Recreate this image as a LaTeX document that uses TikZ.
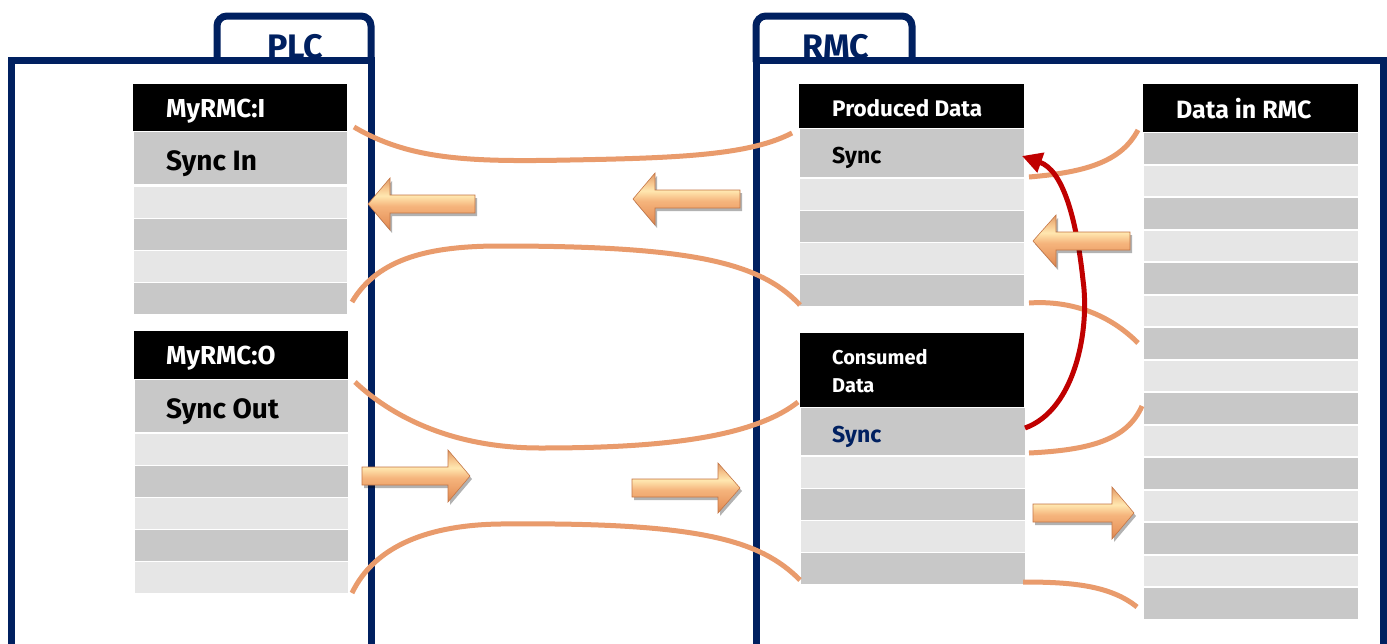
\documentclass[tikz,border=0pt]{standalone}
\usepackage{fontspec}
\setmainfont{Fira Sans}
\usetikzlibrary{arrows.meta,shadows}
\definecolor{navy}{RGB}{0,32,96}
\definecolor{rowdark}{RGB}{200,200,200}
\definecolor{rowlight}{RGB}{230,230,230}
\definecolor{wirec}{RGB}{233,155,108}
\definecolor{redarr}{RGB}{192,0,0}
\definecolor{arrA}{RGB}{196,118,70}
\definecolor{arrB}{RGB}{232,150,94}
\definecolor{arrC}{RGB}{245,180,124}
\definecolor{arrD}{RGB}{255,231,176}
\definecolor{arrE}{RGB}{246,196,140}
\definecolor{arrF}{RGB}{218,147,98}
\definecolor{arrG}{RGB}{200,134,80}
\pgfdeclareverticalshading{arrowshade}{100bp}{color(0bp)=(arrA); color(20bp)=(arrA); color(32bp)=(arrB); color(48bp)=(arrC); color(58bp)=(arrD); color(66bp)=(arrE); color(76bp)=(arrF); color(80bp)=(arrG); color(100bp)=(arrG)}
\tikzset{
  cell/.style={rectangle, inner sep=0pt, outer sep=0pt, anchor=north west, minimum width=#1},
  dark/.style={fill=rowdark},
  light/.style={fill=rowlight},
  head/.style={fill=black},
  frame/.style={draw=navy, line width=7pt},
  hlab/.style={anchor=base west, inner sep=0pt, text=white, font=\bfseries\fontsize{26}{30}\selectfont},
  slab/.style={anchor=base west, inner sep=0pt, font=\bfseries\fontsize{23}{28}\selectfont},
  wire/.style={draw=wirec, line width=5pt},
  redline/.style={draw=redarr, line width=5pt},
  ashadow/.style={fill=black, opacity=0.3},
  abody/.style={shading=arrowshade},
  aedge/.style={draw=arrA, line width=0.6pt},
  tabtext/.style={anchor=base, inner sep=0pt, text=navy, font=\bfseries\fontsize{34}{38}\selectfont}
}
\newcommand\arrowpath[6]{(#1,#2-#5) -- (#3,#2-#5) -- (#3,#2-#6) -- (#4,#2) -- (#3,#2+#6) -- (#3,#2+#5) -- (#1,#2+#5) -- cycle}
\newcommand\blockarrow[6]{%
  \fill[ashadow, shift={(2,3)}] \arrowpath{#1}{#2}{#3}{#4}{#5}{#6};
  \shade[abody] \arrowpath{#1}{#2}{#3}{#4}{#5}{#6};
  \draw[aedge] \arrowpath{#1}{#2}{#3}{#4}{#5}{#6};}
\begin{document}
\begin{tikzpicture}[x=1pt,y=-1pt]
\useasboundingbox (0,0) rectangle (1387,643);
\fill[white] (0,0) rectangle (1387,643);

% tab titles (partly hidden under frame line)
\node[tabtext] (plcT) at (295,58) {PLC};
\node[tabtext] (rmcT) at (836,58) {RMC};

% frames
\draw[frame, rounded corners=10pt] (217,62) -- (217,16) -- (371,16) -- (371,62);
\draw[frame] (11,660) -- (11,60) -- (371,60) -- (371,660);
\draw[frame, rounded corners=10pt] (756,62) -- (756,16) -- (912,16) -- (912,62);
\draw[frame] (756,660) -- (756,60) -- (1383.5,60) -- (1383.5,660);

% PLC input table
\node[cell=214, head, minimum height=47] (hI) at (133,84) {};
\node[cell=213, dark, minimum height=52] (i0) at (134,132) {};
\node[cell=213, light, minimum height=31] (i1) at (134,187) {};
\node[cell=213, dark, minimum height=31] (i2) at (134,219) {};
\node[cell=213, light, minimum height=31] (i3) at (134,251) {};
\node[cell=213, dark, minimum height=31] (i4) at (134,283) {};
\node[hlab] (tI) at (166,117) {MyRMC:I};
\node[slab, font=\bfseries\fontsize{28}{32}\selectfont] (sI) at (166,170) {Sync In};

% PLC output table
\node[cell=214, head, minimum height=48] (hO) at (134,331) {};
\node[cell=213, dark, minimum height=52] (o0) at (135,380) {};
\node[cell=213, light, minimum height=31] (o1) at (135,434) {};
\node[cell=213, dark, minimum height=31] (o2) at (135,466) {};
\node[cell=213, light, minimum height=31] (o3) at (135,498) {};
\node[cell=213, dark, minimum height=31] (o4) at (135,530) {};
\node[cell=213, light, minimum height=31] (o5) at (135,562) {};
\node[hlab] (tO) at (166,364) {MyRMC:O};
\node[slab, font=\bfseries\fontsize{28}{32}\selectfont] (sO) at (166,418) {Sync Out};

% Produced data
\node[cell=225, head, minimum height=44] (hP) at (799,84) {};
\node[cell=224, dark, minimum height=48] (p0) at (800,129) {};
\node[cell=224, light, minimum height=31] (p1) at (800,179) {};
\node[cell=224, dark, minimum height=31] (p2) at (800,211) {};
\node[cell=224, light, minimum height=31] (p3) at (800,243) {};
\node[cell=224, dark, minimum height=31] (p4) at (800,275) {};
\node[hlab, font=\bfseries\fontsize{22.5}{26}\selectfont] (tP) at (832,116) {Produced Data};
\node[slab] (sP) at (832,163) {Sync};

% Consumed data
\node[cell=224, head, minimum height=74] (hC) at (800,333) {};
\node[cell=224, dark, minimum height=47] (c0) at (801,408) {};
\node[cell=224, light, minimum height=31] (c1) at (801,457) {};
\node[cell=224, dark, minimum height=31] (c2) at (801,489) {};
\node[cell=224, light, minimum height=31] (c3) at (801,521) {};
\node[cell=224, dark, minimum height=31] (c4) at (801,553) {};
\node[hlab, font=\bfseries\fontsize{20}{24}\selectfont] (tC1) at (832,364) {Consumed};
\node[hlab, font=\bfseries\fontsize{20}{24}\selectfont] (tC2) at (832,392) {Data};
\node[slab, text=navy] (sC) at (832,442) {Sync};

% Data in RMC
\node[cell=215, head, minimum height=48] (hD) at (1143,84) {};
\foreach \i [evaluate=\i as \yy using 133+32.5*\i] in {0,...,14}{
  \ifodd\i
    \node[cell=214, light, minimum height=30.5] (d\i) at (1144,\yy) {};
  \else
    \node[cell=214, dark, minimum height=30.5] (d\i) at (1144,\yy) {};
  \fi
}
\node[hlab, font=\bfseries\fontsize{25}{30}\selectfont] (tD) at (1176,118) {Data in RMC};

% wire end points
\coordinate (w1a) at (354,127);  \coordinate (w1b) at (792,133);
\coordinate (w2a) at (352,302);  \coordinate (w2b) at (800,305);
\coordinate (w3a) at (355,382);  \coordinate (w3b) at (798,402);
\coordinate (w4a) at (352,593);  \coordinate (w4b) at (800,580);
\coordinate (w5a) at (1029,177); \coordinate (w5b) at (1138,130);
\coordinate (w6a) at (1029,303); \coordinate (w6b) at (1138,343);
\coordinate (w7a) at (1029,453); \coordinate (w7b) at (1142,406);
\coordinate (w8a) at (1023,582); \coordinate (w8b) at (1137,607);

\draw[wire] (w1a) .. controls (410,160) and (470,162) .. (570,160) .. controls (680,158) and (750,155) .. (w1b);
\draw[wire] (w2a) .. controls (378,258) and (430,246) .. (500,246) .. controls (690,246) and (760,262) .. (w2b);
\draw[wire] (w3a) .. controls (390,415) and (450,448) .. (540,448) .. controls (650,448) and (750,440) .. (w3b);
\draw[wire] (w4a) .. controls (375,545) and (430,525) .. (500,524) .. controls (700,522) and (760,540) .. (w4b);
\draw[wire] (w5a) .. controls (1090,172) and (1122,160) .. (w5b);
\draw[wire] (w6a) .. controls (1072,300) and (1110,315) .. (w6b);
\draw[wire] (w7a) .. controls (1090,450) and (1127,440) .. (w7b);
\draw[wire] (w8a) .. controls (1070,582) and (1110,585) .. (w8b);

% red sync arrow
\coordinate (r1) at (1025,428);
\coordinate (r2) at (1022,156);
\draw[redline, -{Triangle[length=20pt,width=20pt]}] (r1) .. controls (1075,410) and (1090,330) .. (1083,280) .. controls (1076,215) and (1062,170) .. (r2);

% 3D block arrows
\blockarrow{475}{204}{390}{368}{9}{26}
\blockarrow{740}{199}{655}{633}{9}{26}
\blockarrow{1130}{241}{1056}{1033}{9}{26}
\blockarrow{362}{476}{448}{470}{9}{26}
\blockarrow{632}{488}{718}{740}{9}{25}
\blockarrow{1033}{513}{1112}{1134}{9}{26}
\end{tikzpicture}
\end{document}
